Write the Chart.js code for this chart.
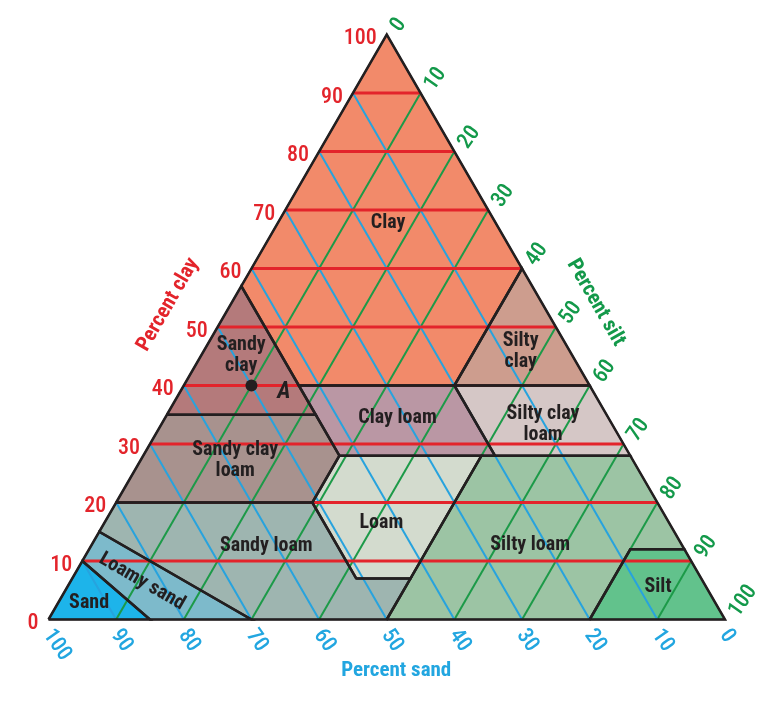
<!DOCTYPE html>
<html lang="en">
<head>
<meta charset="UTF-8">
<title>Soil texture triangle</title>
<script src="https://cdn.jsdelivr.net/npm/chart.js"></script>
<style>
  html, body { margin: 0; padding: 0; background: #fff; }
  #wrap { width: 775px; height: 717px; }
</style>
</head>
<body>
<div id="wrap"><canvas id="soilChart" width="775" height="717"></canvas></div>
<script>
// tick values on the three sides
const clayTicks = [0, 10, 20, 30, 40, 50, 60, 70, 80, 90, 100];
const siltTicks = [0, 10, 20, 30, 40, 50, 60, 70, 80, 90, 100];
const sandTicks = [100, 90, 80, 70, 60, 50, 40, 30, 20, 10, 0];
const gridSteps = [10, 20, 30, 40, 50, 60, 70, 80, 90];

// texture classes, corners as [percent clay, percent silt]
const sand = [[0, 0], [0, 15], [10, 0]];
const loamySand = [[10, 0], [0, 15], [0, 30], [15, 0]];
const sandyLoam = [[15, 0], [0, 30], [0, 50], [7, 50], [7, 42], [20, 29], [20, 0]];
const loam = [[7, 42], [7, 50], [28, 50], [28, 29], [20, 29]];
const siltLoam = [[0, 50], [0, 80], [12, 80], [12, 88], [28, 72], [28, 50], [7, 50]];
const silt = [[0, 80], [0, 100], [12, 88], [12, 80]];
const sandyClayLoam = [[20, 0], [35, 0], [35, 22], [28, 29], [20, 29]];
const clayLoam = [[28, 29], [40, 17], [40, 40], [28, 52]];
const siltyClayLoam = [[28, 52], [40, 40], [40, 60], [28, 72]];
const sandyClay = [[35, 0], [57, 0], [40, 17], [35, 22]];
const siltyClay = [[40, 40], [60, 40], [40, 60]];
const clay = [[57, 0], [100, 0], [60, 40], [40, 40], [40, 17]];

// sample point A: [clay, silt]
const pointA = [40, 10];

const SQ = Math.sqrt(3) / 2;
function pt(c, s) { return { x: s + c / 2, y: c * SQ }; }
function poly(arr) {
  const p = arr.map(a => pt(a[0], a[1]));
  p.push(p[0]);
  return p;
}

const regions = [
  { name: 'Sand', pts: sand, color: '#1DB4EA' },
  { name: 'Loamy sand', pts: loamySand, color: '#7DBACB' },
  { name: 'Sandy loam', pts: sandyLoam, color: '#9EB5B0' },
  { name: 'Loam', pts: loam, color: '#D3DBCE' },
  { name: 'Silty loam', pts: siltLoam, color: '#9CC4A4' },
  { name: 'Silt', pts: silt, color: '#62C28C' },
  { name: 'Sandy clay loam', pts: sandyClayLoam, color: '#A8928E' },
  { name: 'Clay loam', pts: clayLoam, color: '#BA97A4' },
  { name: 'Silty clay loam', pts: siltyClayLoam, color: '#D5C7C6' },
  { name: 'Sandy clay', pts: sandyClay, color: '#B47A7B' },
  { name: 'Silty clay', pts: siltyClay, color: '#CD9D8E' },
  { name: 'Clay', pts: clay, color: '#F28A6A' }
];

const datasets = [];
function line(data, color, width, order) {
  datasets.push({
    data: data, showLine: true, borderColor: color, borderWidth: width,
    pointRadius: 0, fill: false, order: order, clip: false, tension: 0
  });
}

// class fills
regions.forEach(r => {
  datasets.push({
    data: poly(r.pts), showLine: true, borderWidth: 0, borderColor: r.color,
    backgroundColor: r.color, fill: 'shape', pointRadius: 0, order: 5, clip: false
  });
});

// grid
gridSteps.forEach(v => {
  line([pt(100 - v, 0), pt(0, 100 - v)], '#27A3DE', 2, 4);   // sand
  line([pt(0, v), pt(100 - v, v)], '#1C9A48', 2, 4);         // silt
});
gridSteps.forEach(v => {
  line([pt(v, 0), pt(v, 100 - v)], '#E3242B', 3, 3);          // clay
});

// class boundaries and frame
regions.forEach(r => line(poly(r.pts), '#231F20', 2.5, 1));
line([pt(0, 0), pt(0, 100), pt(100, 0), pt(0, 0)], '#231F20', 1.5, 1);

datasets.push({
  data: [pt(pointA[0], pointA[1])], pointRadius: 6, pointBackgroundColor: '#231F20',
  pointBorderWidth: 0, showLine: false, order: 0, clip: false
});

const FONT = "'Liberation Sans Narrow', 'Roboto Condensed', 'DejaVu Sans Condensed', 'Liberation Sans', sans-serif";

const labelPlugin = {
  id: 'triLabels',
  afterDatasetsDraw(chart) {
    const ctx = chart.ctx;
    const xs = chart.scales.x, ys = chart.scales.y;
    const px = p => [xs.getPixelForValue(p.x), ys.getPixelForValue(p.y)];

    function text(str, x, y, opts) {
      ctx.save();
      ctx.translate(x, y);
      ctx.rotate((opts.rot || 0) * Math.PI / 180);
      ctx.font = opts.font;
      ctx.fillStyle = opts.color;
      ctx.textAlign = opts.align || 'center';
      ctx.textBaseline = 'middle';
      const lines = str.split('\n');
      const lh = opts.lh || 21;
      lines.forEach((l, i) => ctx.fillText(l, 0, (i - (lines.length - 1) / 2) * lh));
      ctx.restore();
    }

    const tickFont = '500 22px ' + FONT;
    // clay ticks (left side)
    clayTicks.forEach(c => {
      const [x, y] = px(pt(c, 0));
      text(String(c), x - 10, y + 4, { font: tickFont, color: '#E3242B', align: 'right' });
    });
    // silt ticks (right side)
    siltTicks.forEach(s => {
      const [x, y] = px(pt(100 - s, s));
      text(String(s), x + 8.7, y - 5, { font: tickFont, color: '#13994A', align: 'left', rot: -55 });
    });
    // sand ticks (bottom)
    sandTicks.forEach(s => {
      const [x, y] = px(pt(0, 100 - s));
      text(String(s), x - 1, y + 12, { font: tickFont, color: '#22A6E0', align: 'left', rot: 55 });
    });

    // axis titles
    const bold = 'bold 21px ' + FONT;
    let p = px({ x: 17.7, y: 46.6 });
    text('Percent clay', p[0], p[1], { font: bold, color: '#E3242B', rot: -60 });
    p = px({ x: 80.9, y: 46.9 });
    text('Percent silt', p[0], p[1], { font: bold, color: '#13994A', rot: 60 });
    p = px({ x: 51.4, y: -7.6 });
    text('Percent sand', p[0], p[1], { font: bold, color: '#22A6E0' });

    // class names
    const names = [
      ['Clay', 50.2, 58.7, 0],
      ['Sandy\nclay', 28.5, 39.1, 0],
      ['Silty\nclay', 69.8, 39.7, 0],
      ['Clay loam', 51.6, 29.8, 0],
      ['Silty clay\nloam', 73.1, 28.9, 0],
      ['Sandy clay\nloam', 27.6, 23.6, 0],
      ['Loam', 49.2, 14.3, 0],
      ['Sandy loam', 32.2, 10.9, 0],
      ['Silty loam', 71.2, 11.0, 0],
      ['Silt', 90.1, 4.8, 0],
      ['Sand', 6.0, 2.4, 0],
      ['Loamy sand', 13.8, 5.6, 30]
    ];
    names.forEach(n => {
      const q = px({ x: n[1], y: n[2] });
      text(n[0], q[0], q[1], { font: 'bold 20px ' + FONT, color: '#231F20', rot: n[3] });
    });
    const a = px({ x: 34.8, y: 33.7 });
    text('A', a[0], a[1], { font: 'italic bold 23px ' + FONT, color: '#231F20' });
  }
};

new Chart(document.getElementById('soilChart'), {
  type: 'scatter',
  data: { datasets: datasets },
  options: {
    responsive: false,
    animation: false,
    layout: { padding: { left: 48.5, right: 50, top: 34.5, bottom: 97.5 } },
    scales: {
      x: { type: 'linear', min: 0, max: 100, display: false },
      y: { type: 'linear', min: 0, max: 100 * SQ, display: false }
    },
    plugins: { legend: { display: false }, tooltip: { enabled: false } }
  },
  plugins: [labelPlugin]
});
</script>
</body>
</html>
